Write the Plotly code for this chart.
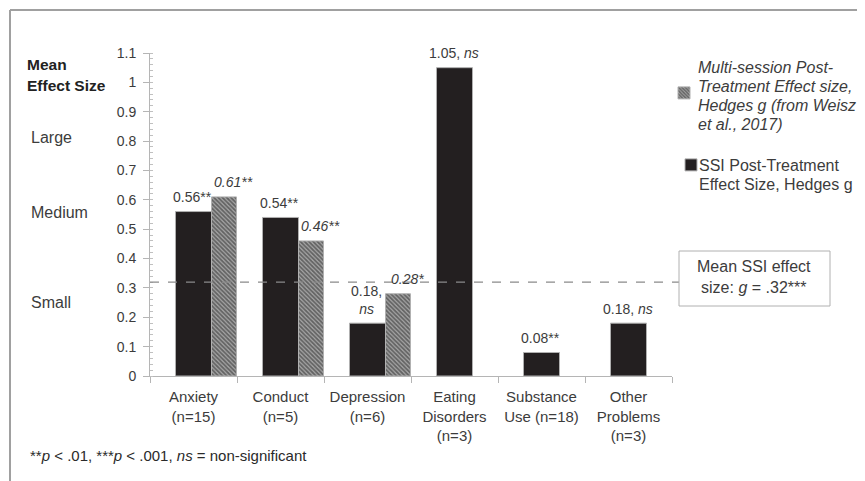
import plotly.graph_objects as go

categories = ["Anxiety<br>(n=15)", "Conduct<br>(n=5)", "Depression<br>(n=6)",
              "Eating<br>Disorders<br>(n=3)", "Substance<br>Use (n=18)", "Other<br>Problems<br>(n=3)"]
ssi_values = [0.56, 0.54, 0.18, 1.05, 0.08, 0.18]
ssi_sig = ["**", "**", ",<br><i>ns</i>", ", <i>ns</i>", "**", ", <i>ns</i>"]
multi_categories = categories[:3]
multi_values = [0.61, 0.46, 0.28]
multi_sig = ["**", "**", "*"]
mean_ssi = 0.32
y_ticks = [0, 0.1, 0.2, 0.3, 0.4, 0.5, 0.6, 0.7, 0.8, 0.9, 1, 1.1]
y_ticktext = ["0", "0.1", "0.2", "0.3", "0.4", "0.5", "0.6", "0.7", "0.8", "0.9", "1", "1.1"]
multi_legend_lines = ["Multi-session Post-", "Treatment Effect size,",
                      "Hedges g (from Weisz", "et al., 2017)"]
ssi_legend_lines = ["SSI Post-Treatment", "Effect Size, Hedges g"]

FONT = "Liberation Sans, Arial, sans-serif"
TXT = "#3c3c3c"
OFF = 8                      # page body margin
W, H = 865 - OFF, 481 - OFF  # figure size
L, R, T, B = 150, 672, 53, 376  # plot area in window pixels


def px2x(px):
    return (px - L) / (R - L)


def py2y(py):
    return (B - py) / (B - T)


fig = go.Figure()

fig.add_trace(go.Bar(
    x=multi_categories, y=multi_values, width=0.287, offset=0.207,
    marker=dict(color="#8a8a8a", line=dict(color="#b0b0b0", width=1),
                pattern=dict(shape="\\", fgcolor="#1e1e1e", bgcolor="#a8a8a8", size=3, solidity=0.6)),
    name=" ", legend="legend", hoverinfo="skip"))

fig.add_trace(go.Bar(
    x=categories, y=ssi_values, width=0.414, offset=-0.207,
    marker=dict(color="#231f20", line=dict(color="#b0b0b0", width=1)),
    name=" ", legend="legend2", hoverinfo="skip"))

annotations = []
for c, v, s in zip(categories, ssi_values, ssi_sig):
    two_line = "<br>" in s
    annotations.append(dict(
        x=c, y=v, xref="x", yref="y", text=f"{v:.2f}{s}", showarrow=False,
        yanchor="bottom" if two_line else "middle", yshift=4 if two_line else 14.5,
        xshift=-1, font=dict(family=FONT, size=14, color=TXT)))
for c, v, s in zip(multi_categories, multi_values, multi_sig):
    annotations.append(dict(
        x=c, y=v, xref="x", yref="y", text=f"<i>{v:.2f}{s}</i>", showarrow=False,
        yanchor="middle", yshift=14.5, xshift=40,
        font=dict(family=FONT, size=14, color=TXT)))

side_labels = [("<b>Mean</b>", 25, 65), ("<b>Effect Size</b>", 25, 85),
               ("Large", 29, 137), ("Medium", 29, 213), ("Small", 29, 302)]
for t, x, y in side_labels:
    annotations.append(dict(x=px2x(x), y=py2y(y), xref="paper", yref="paper", text=t,
                            showarrow=False, xanchor="left", yanchor="middle",
                            font=dict(family=FONT, size=15.5 if "<b>" in t else 16,
                                      color="#222" if "<b>" in t else TXT)))

# legend texts
for i, line in enumerate(multi_legend_lines):
    annotations.append(dict(x=px2x(696), y=py2y(68 + i * 18.8), xref="paper", yref="paper",
                            text=f"<i>{line}</i>", showarrow=False, xanchor="left", yanchor="middle",
                            font=dict(family=FONT, size=16, color=TXT)))
for i, line in enumerate(ssi_legend_lines):
    annotations.append(dict(x=px2x(697), y=py2y(165 + i * 20), xref="paper", yref="paper",
                            text=line, showarrow=False, xanchor="left", yanchor="middle",
                            font=dict(family=FONT, size=16, color=TXT)))

annotations.append(dict(x=px2x(754), y=py2y(277), xref="paper", yref="paper",
                        text="Mean SSI effect<br>size: <i>g</i> = .32***", showarrow=False,
                        xanchor="center", yanchor="middle",
                        font=dict(family=FONT, size=16, color=TXT)))
annotations.append(dict(x=px2x(28), y=py2y(455), xref="paper", yref="paper",
                        text="**<i>p</i> < .01, ***<i>p</i> < .001, <i>ns</i> = non-significant",
                        showarrow=False, xanchor="left", yanchor="middle",
                        font=dict(family=FONT, size=15, color="#2a2a2a")))

shapes = [
    dict(type="line", xref="paper", yref="y", x0=0, x1=px2x(679), y0=mean_ssi, y1=mean_ssi,
         line=dict(color="#8a8a8a", width=1.3, dash="dash")),
    dict(type="rect", xref="paper", yref="paper", x0=px2x(679), x1=px2x(830),
         y0=py2y(306), y1=py2y(251), line=dict(color="#b0b0b0", width=1)),
    dict(type="line", xref="paper", yref="paper", x0=px2x(10), x1=px2x(863),
         y0=py2y(10), y1=py2y(10), line=dict(color="#a0a0a0", width=2)),
    dict(type="line", xref="paper", yref="paper", x0=px2x(10), x1=px2x(10),
         y0=py2y(10), y1=py2y(490), line=dict(color="#a0a0a0", width=2)),
    dict(type="line", xref="paper", yref="paper", x0=px2x(863), x1=px2x(863),
         y0=py2y(10), y1=py2y(490), line=dict(color="#a0a0a0", width=2)),
]

fig.update_layout(
    width=W, height=H,
    margin=dict(l=L - OFF, r=OFF + W - R, t=T - OFF, b=OFF + H - B, pad=0, autoexpand=False),
    paper_bgcolor="white", plot_bgcolor="white",
    barmode="overlay",
    font=dict(family=FONT, size=14, color=TXT),
    xaxis=dict(type="category", categoryorder="array", categoryarray=categories,
               range=[-0.5, 5.5], showline=True, linecolor="#b5b5b5", linewidth=1,
               ticks="outside", tickson="boundaries", ticklen=6, tickcolor="#b5b5b5",
               tickfont=dict(family=FONT, size=15, color=TXT), ticklabelstandoff=7,
               showgrid=False, zeroline=False, fixedrange=True),
    yaxis=dict(range=[0, 1.1], tickvals=y_ticks, ticktext=y_ticktext,
               showline=True, linecolor="#b5b5b5", linewidth=1,
               ticks="outside", ticklen=6, tickcolor="#b5b5b5",
               minor=dict(dtick=0.02, tick0=0, ticks="inside", ticklen=3, tickcolor="#c0c0c0"),
               tickfont=dict(family=FONT, size=14, color=TXT), ticklabelstandoff=4,
               showgrid=False, zeroline=False, fixedrange=True),
    legend=dict(x=px2x(664), y=py2y(76), xanchor="left", yanchor="top", valign="middle",
                bgcolor="rgba(0,0,0,0)", font=dict(family=FONT, size=16, color=TXT)),
    legend2=dict(x=px2x(671), y=py2y(148), xanchor="left", yanchor="top", valign="middle",
                 bgcolor="rgba(0,0,0,0)", font=dict(family=FONT, size=16, color=TXT)),
    annotations=annotations,
    shapes=shapes,
    showlegend=True,
)

fig.write_html("out.html")
